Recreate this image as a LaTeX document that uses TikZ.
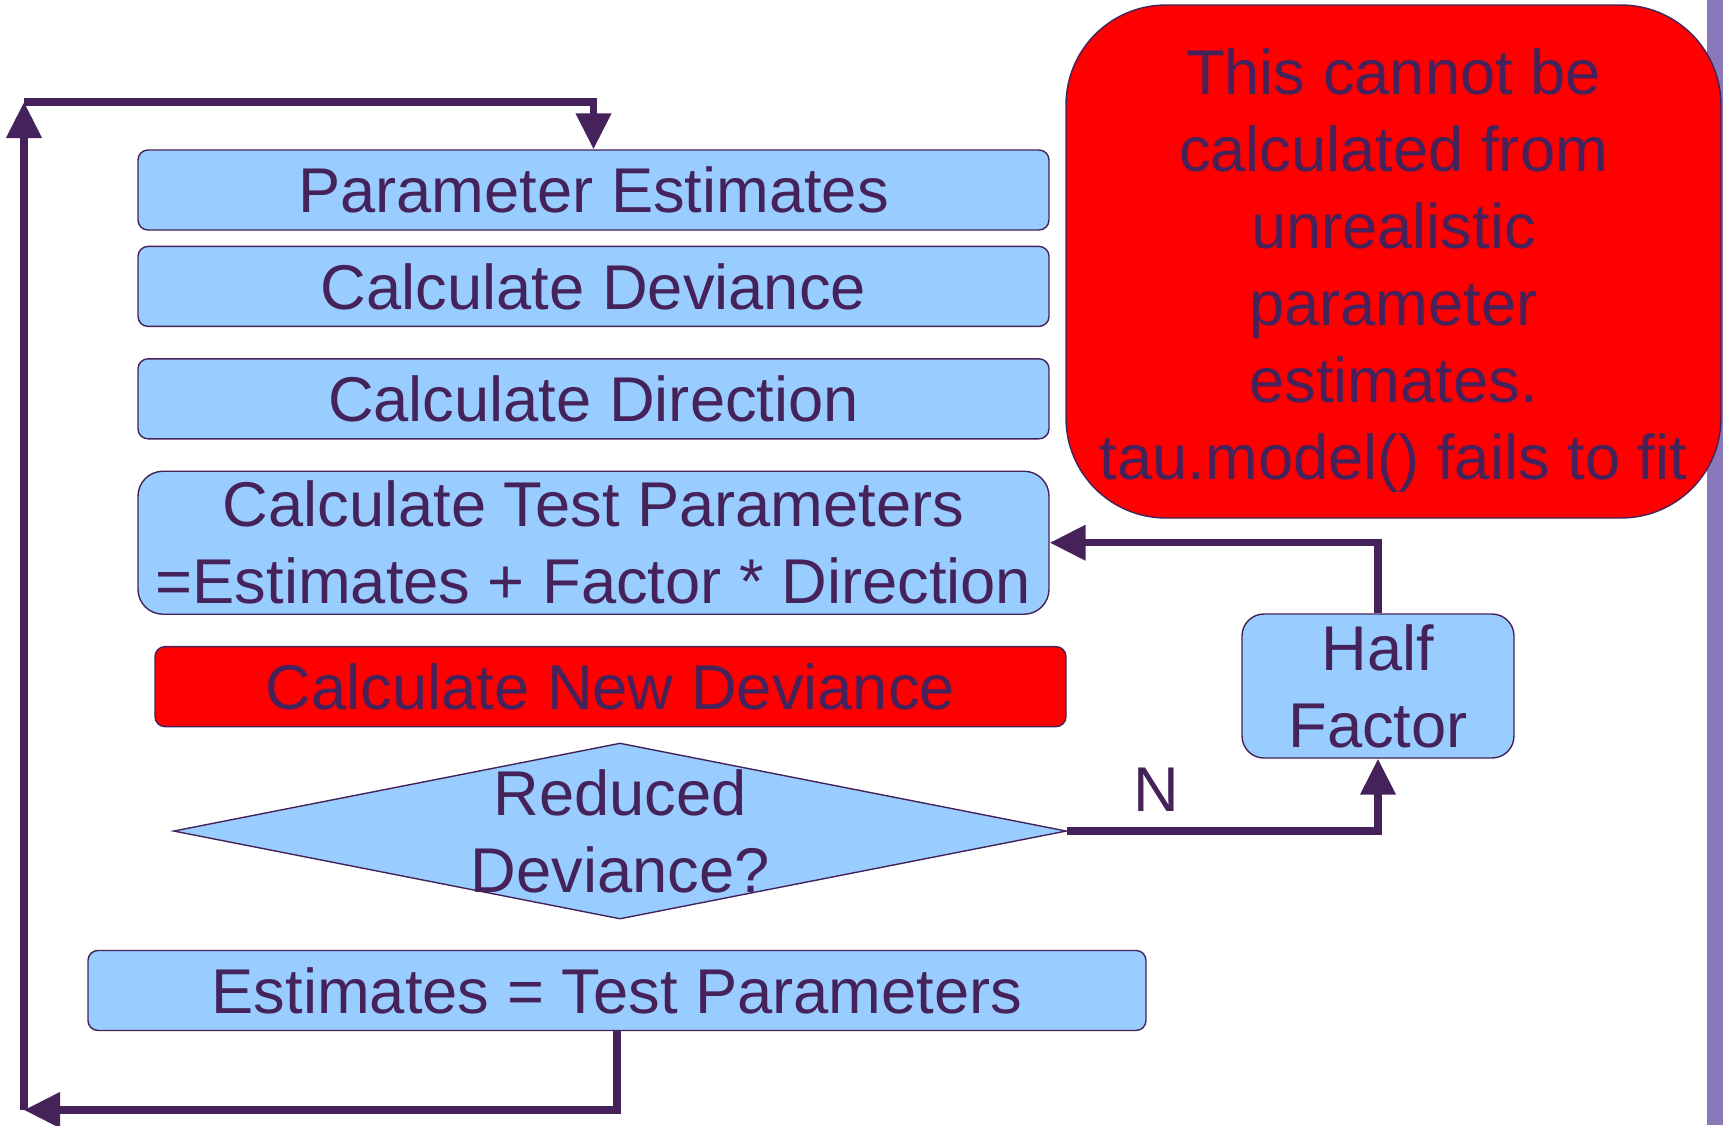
\documentclass[tikz,border=0pt]{standalone}
\usepackage{fontspec}
\setmainfont{Liberation Sans}
\usetikzlibrary{shapes.geometric, arrows.meta, positioning, calc}

\definecolor{inkpurple}{RGB}{69,35,90}
\definecolor{boxblue}{RGB}{153,204,255}
\definecolor{sidebar}{RGB}{139,120,184}

\begin{document}
\begin{tikzpicture}[
    node distance=0.31cm,
    every node/.style={text=inkpurple, font=\fontsize{18}{21.9}\selectfont, align=center, inner sep=2pt},
    stepbox/.style={rectangle, rounded corners=0.1cm, draw=inkpurple, line width=0.4pt, fill=boxblue, minimum width=9.11cm, minimum height=0.8cm},
    failbox/.style={stepbox, fill=red},
    decision/.style={diamond, draw=inkpurple, line width=0.4pt, fill=boxblue, minimum width=8.93cm, minimum height=1.76cm, inner sep=0pt},
    flow/.style={-{Triangle[length=3.6mm, width=3.4mm]}, line width=2.1pt, draw=inkpurple}
]
\useasboundingbox (0,0) rectangle (17.23,-11.25);
\fill[sidebar] (17.07,0) rectangle (17.23,-11.25);

% main column
\node[stepbox] (est) at (5.935,-1.90) {Parameter Estimates};
\node[stepbox, below=0.15cm of est] (dev) {Calculate Deviance};
\node[stepbox, below=of dev] (dir) {Calculate Direction};
\node[stepbox, below=of dir, minimum height=1.43cm, rounded corners=0.25cm] (test) {Calculate Test Parameters\\=Estimates + Factor * Direction};
\node[failbox, below=of test, xshift=0.17cm] (newdev) {Calculate New Deviance};
\node[decision, below=0.15cm of newdev, xshift=0.095cm] (reduced) {};
\node (reducedtxt) at (reduced.center) {Reduced\\Deviance?};
\node[stepbox, minimum width=10.58cm, below=0.30cm of reduced, xshift=-0.03cm] (update) {Estimates = Test Parameters};

% side boxes
\node[failbox, minimum width=6.55cm, minimum height=5.13cm, rounded corners=1cm] (note) at (13.935,-2.615) {};
\node (notetxt) at ([yshift=-0.09cm]note.center) {This cannot be\\calculated from\\unrealistic\\parameter\\estimates.\\tau.model() fails to fit};
\node[stepbox, minimum width=2.72cm, minimum height=1.44cm, rounded corners=0.22cm] (half) at (13.78,-6.86) {Half\\Factor};

% loop corners
\coordinate (loopbl) at (0.24,-11.10);
\coordinate (looptl) at (0.24,-1.02);

\draw[flow] (update.south) |- (loopbl);
\draw[flow] (loopbl) -- (looptl);
\draw[flow] (looptl) -| (est.north);
\draw[flow] (reduced.east) -| node[pos=0.144, above=2.5pt] (nlabel) {N} (half.south);
\draw[flow] (half.north) |- (test.east);
\end{tikzpicture}
\end{document}
